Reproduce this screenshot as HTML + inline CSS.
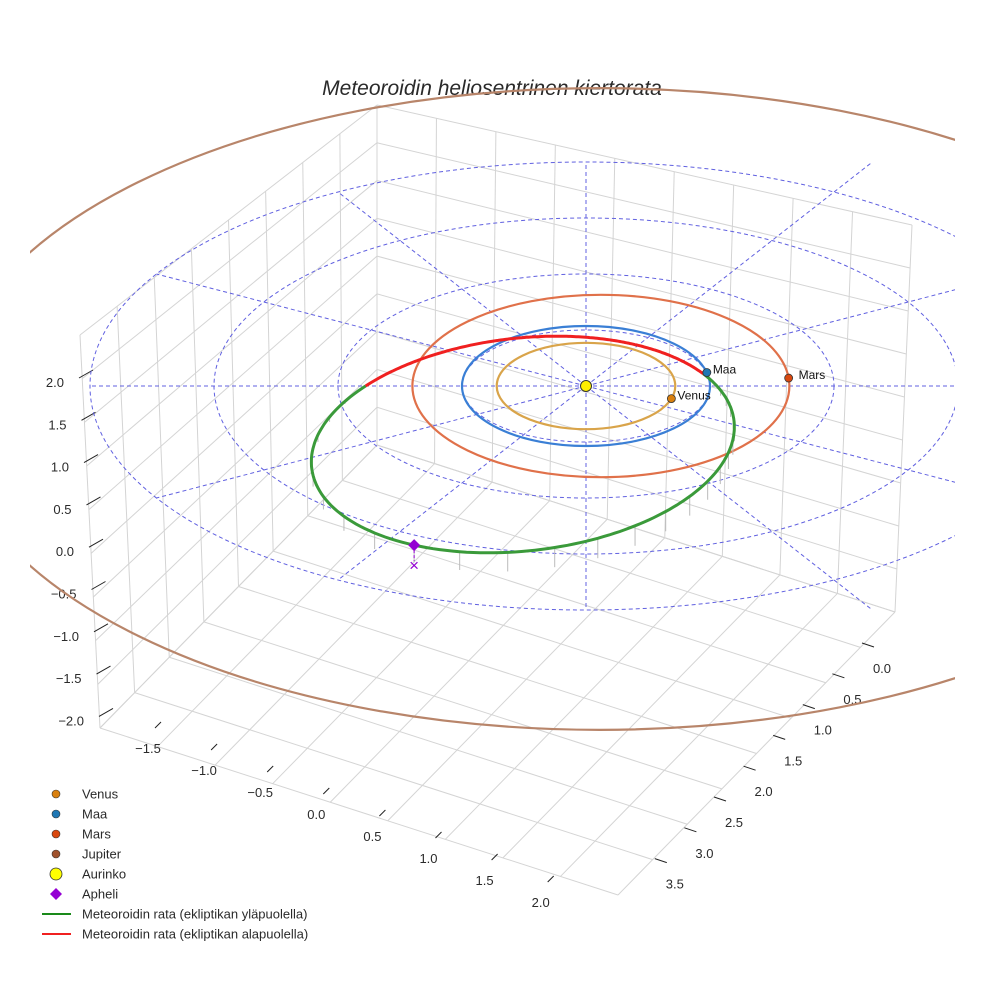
<!DOCTYPE html>
<html><head><meta charset="utf-8">
<style>
body{margin:0;background:#fff;}
svg{display:block;font-family:"Liberation Sans",sans-serif;}
</style></head>
<body>
<svg id="chart" width="984" height="984" viewBox="0 0 984 984">
<defs><clipPath id="plotclip"><rect x="30" y="0" width="925" height="984"/></clipPath></defs>
<text x="492" y="95" text-anchor="middle" font-size="21" font-style="italic" fill="#2a2a2a">Meteoroidin heliosentrinen kiertorata</text>
<g id="grid"></g>
<g id="ticks"></g>
<g id="ecl" clip-path="url(#plotclip)"></g>
<g id="orbits" clip-path="url(#plotclip)"></g>
<g id="met"></g>
<g id="planets"></g>
<g id="legend"></g>
</svg>
<script>
const planetNames = ["Venus","Maa","Mars","Jupiter"];
const planetRadiusAU = [0.72, 1.0, 1.52, 5.2];
const planetCenterShiftAU = [0.0, 0.0, 0.12, 0.11];
const planetAngleDeg = [-17, 13, 5, 200];
const planetOrbitColors = ["#d9a44a","#3a7fd5","#e0714a","#b8856a"];
const planetDotColors = ["#d9800f","#1f77b4","#d9480f","#a0522d"];
const eclipticRings = [1,2,3,4];
const spokeAnglesDeg = [0,30,60,90,120,150,180,210,240,270,300,330];
const metA = [2.0];
const metE = [0.581];
const metPeriArgDeg = [64];
const metRedStartNu = [-51];
const metRedEndNu = [116];
const zTicks = ["2.0","1.5","1.0","0.5","0.0","−0.5","−1.0","−1.5","−2.0"];
const xTicks = ["−1.5","−1.0","−0.5","0.0","0.5","1.0","1.5","2.0"];
const yTicks = ["0.0","0.5","1.0","1.5","2.0","2.5","3.0","3.5"];
const legendLabels = ["Venus","Maa","Mars","Jupiter","Aurinko","Apheli","Meteoroidin rata (ekliptikan yläpuolella)","Meteoroidin rata (ekliptikan alapuolella)"];

const NS="http://www.w3.org/2000/svg";
function mk(tag,attrs,parent){const e=document.createElementNS(NS,tag);for(const k in attrs)e.setAttribute(k,attrs[k]);parent.appendChild(e);return e;}
const SX=586, SY=386, KX=124, KY=58;
function px(x){return SX+x*KX;}

const grid=document.getElementById('grid');
function lerp(a,b,t){return [a[0]+(b[0]-a[0])*t,a[1]+(b[1]-a[1])*t];}
function bil(P,u,v){const a=lerp(P[0],P[1],u),b=lerp(P[3],P[2],u);return lerp(a,b,v);}
function quadGrid(P,nu,nv){
  for(let i=0;i<=nu;i++){const a=bil(P,i/nu,0),b=bil(P,i/nu,1);mk('line',{x1:a[0],y1:a[1],x2:b[0],y2:b[1],stroke:'#d4d4d4','stroke-width':1},grid);}
  for(let j=0;j<=nv;j++){const a=bil(P,0,j/nv),b=bil(P,1,j/nv);mk('line',{x1:a[0],y1:a[1],x2:b[0],y2:b[1],stroke:'#d4d4d4','stroke-width':1},grid);}
}
const L=[100,728],F=[618,895],R=[895,612],B=[377,445],Lt=[80,335],Bt=[377,105],Rt=[912,225];
quadGrid([L,F,R,B],9,8);
quadGrid([L,B,Bt,Lt],8,9);
quadGrid([B,R,Rt,Bt],9,9);

const tk=document.getElementById('ticks');
zTicks.forEach((t,i)=>{const y=382+i*42.3;const xe=64+i*2.5;
  const e=mk('text',{x:xe,y:y+5,'text-anchor':'end','font-size':13,fill:'#2a2a2a'},tk);e.textContent=t;
  
  
  mk('line',{x1:xe+15,y1:y-4,x2:xe+29,y2:y-12,stroke:'#222','stroke-width':1},tk);});
xTicks.forEach((t,i)=>{const x=148+i*56.1,y=748+i*22;
  const e=mk('text',{x:x,y:y+5,'text-anchor':'middle','font-size':13,fill:'#2a2a2a'},tk);e.textContent=t;
  
  
  mk('line',{x1:x+7,y1:y-20,x2:x+13,y2:y-26,stroke:'#222','stroke-width':1},tk);});
yTicks.forEach((t,i)=>{const x=882-i*29.6,y=668+i*30.8;
  const e=mk('text',{x:x,y:y+5,'text-anchor':'middle','font-size':13,fill:'#2a2a2a'},tk);e.textContent=t;
  
  
  mk('line',{x1:x-20,y1:y-25,x2:x-8,y2:y-21,stroke:'#222','stroke-width':1},tk);});

const ecl=document.getElementById('ecl');
eclipticRings.forEach(r=>{const e=mk('ellipse',{cx:SX,cy:SY,rx:r*KX,ry:r*56,fill:'none',stroke:'#6060e0','stroke-width':1,'stroke-dasharray':'4,3'},ecl);
  
  });
spokeAnglesDeg.forEach(a=>{const t=a*Math.PI/180;const r=(a>=90&&a<=270)?4.0:4.6;
  const e=mk('line',{x1:SX,y1:SY,x2:SX+Math.cos(t)*r*KX,y2:SY-Math.sin(t)*r*56,stroke:'#6060e0','stroke-width':1,'stroke-dasharray':'4,3'},ecl);
  
  });

const orb=document.getElementById('orbits');
planetNames.forEach((n,i)=>{const r=planetRadiusAU[i];
  const e=mk('ellipse',{cx:px(planetCenterShiftAU[i]),cy:SY+(i===3?23:0),rx:r*(i===3?125.5:KX),ry:r*(i===3?61.7:60),fill:'none',stroke:planetOrbitColors[i],'stroke-width':2.2},orb);
  
  });

const met=document.getElementById('met');
const a=metA[0],ec=metE[0],w=metPeriArgDeg[0];
function mpt(nu){const p=a*(1-ec*ec);const r=p/(1+ec*Math.cos(nu*Math.PI/180));const t=(nu+w)*Math.PI/180;return [px(r*Math.cos(t)),SY-r*56*Math.sin(t)];}
function seg(n0,n1){let d='';for(let n=n0;n<=n1+0.01;n+=1){const q=mpt(n);d+=(d?'L':'M')+q[0].toFixed(1)+','+q[1].toFixed(1);}return d;}
const s0=metRedStartNu[0],s1=metRedEndNu[0];
for(let n=s1+8;n<360+s0;n+=7){const q=mpt(n);const h=20*Math.sin((n-s1)/(360+s0-s1)*Math.PI);
  const e=mk('line',{x1:q[0],y1:q[1],x2:q[0],y2:q[1]+h,stroke:'#bbb','stroke-width':1},met);
  
  }
const g=mk('path',{d:seg(s1,360+s0),fill:'none',stroke:'#3a9a3a','stroke-width':3},met);


const rd=mk('path',{d:seg(s0,s1),fill:'none',stroke:'#f02020','stroke-width':3},met);


const ap=mpt(180);
mk('line',{x1:ap[0],y1:ap[1],x2:ap[0],y2:ap[1]+16,stroke:'#9400d3','stroke-width':1,'stroke-dasharray':'3,2'},met);
const ax=mk('text',{x:ap[0],y:ap[1]+26,'text-anchor':'middle','font-size':17,fill:'#9400d3'},met);ax.textContent='×';


const apd=mk('path',{d:`M${ap[0]},${ap[1]-6}L${ap[0]+6},${ap[1]}L${ap[0]},${ap[1]+6}L${ap[0]-6},${ap[1]}Z`,fill:'#9400d3'},met);



const pl=document.getElementById('planets');
planetNames.forEach((n,i)=>{if(i===3)return;const r=planetRadiusAU[i],t=planetAngleDeg[i]*Math.PI/180;
  const x=px(planetCenterShiftAU[i]+r*Math.cos(t)),y=SY-r*60*Math.sin(t);
  const c=mk('circle',{cx:x,cy:y,r:4,fill:planetDotColors[i],stroke:'#333','stroke-width':0.8},pl);
  
  
  const tx=mk('text',{x:x+(i===2?10:6),y:y+1,'font-size':12,fill:'#111'},pl);tx.textContent=n;
  
  });
const sun=mk('circle',{cx:SX,cy:SY,r:5.5,fill:'#ffee00',stroke:'#333','stroke-width':1},pl);



const lg=document.getElementById('legend');
legendLabels.forEach((t,i)=>{const y=794+i*20;let m;
  if(i<4){m=mk('circle',{cx:56,cy:y,r:4,fill:planetDotColors[i],stroke:'#333','stroke-width':0.6},lg);}
  else if(i===4){m=mk('circle',{cx:56,cy:y,r:6,fill:'#ffff00',stroke:'#333','stroke-width':0.8},lg);}
  else if(i===5){m=mk('path',{d:`M56,${y-6}L62,${y}L56,${y+6}L50,${y}Z`,fill:'#9400d3'},lg);}
  else {m=mk('line',{x1:42,y1:y,x2:71,y2:y,stroke:i===6?'#1a8a1a':'#f02020','stroke-width':2},lg);}
  
  
  const e=mk('text',{x:82,y:y+4.5,'font-size':13,fill:'#2a2a2a'},lg);e.textContent=t;
  
  });
</script>
</body></html>
